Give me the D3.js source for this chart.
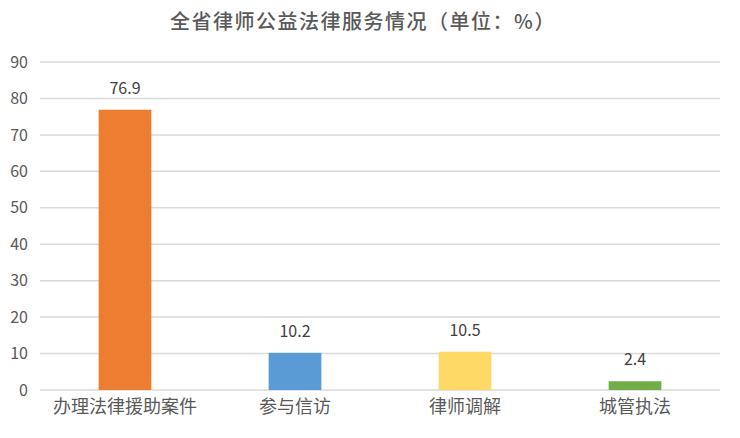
<!DOCTYPE html>
<html>
<head>
<meta charset="utf-8">
<script src="https://cdn.jsdelivr.net/npm/d3@7"></script>
<style>
  body { margin: 0; background: #fff; }
  text { font-family: "Noto Sans CJK SC", "Noto Sans", sans-serif; }
</style>
</head>
<body>
<div class="chart"></div>
<script>
// chart data
const categories = ['办理法律援助案件', '参与信访', '律师调解', '城管执法'];
const values = [76.9, 10.2, 10.5, 2.4];
const barColors = ['#ED7D31', '#5B9BD5', '#FFD966', '#70AD47'];
const yTicks = [0, 10, 20, 30, 40, 50, 60, 70, 80, 90];
const title = '全省律师公益法律服务情况（单位：%）';

const width = 740, height = 438;
const margin = { top: 62, right: 20, bottom: 48, left: 40 };

const svg = d3.select('.chart')
  .append('svg')
  .attr('width', width)
  .attr('height', height);

const x = d3.scaleBand()
  .domain(categories)
  .range([margin.left, width - margin.right])
  .paddingInner(0.69)
  .paddingOuter(0.345);

const y = d3.scaleLinear()
  .domain([0, 90])
  .range([height - margin.bottom, margin.top]);

// title
svg.append('text')
  .attr('x', 363).attr('y', 29)
  .attr('text-anchor', 'middle')
  .style('font-size', '20px')
  .style('font-weight', '500')
  .style('letter-spacing', '1.5px')
  .attr('fill', '#595959')
  .text(title);

// grid lines
svg.append('g')
  .selectAll('line')
  .data(yTicks)
  .join('line')
  .attr('x1', margin.left).attr('x2', width - margin.right)
  .attr('y1', d => y(d)).attr('y2', d => y(d))
  .attr('stroke', '#d9d9d9')
  .attr('stroke-width', 1.5);

// y axis labels
const yAxis = svg.append('g')
  .attr('transform', `translate(${margin.left - 12},0)`)
  .call(d3.axisLeft(y).tickValues(yTicks).tickSize(0).tickPadding(0));
yAxis.select('.domain').remove();
yAxis.selectAll('text')
  .style('font-size', '16px')
  .attr('fill', '#595959');

// bars
svg.append('g')
  .selectAll('rect')
  .data(values)
  .join('rect')
  .attr('x', (d, i) => x(categories[i]))
  .attr('y', d => y(d))
  .attr('width', x.bandwidth())
  .attr('height', d => y(0) - y(d))
  .attr('fill', (d, i) => barColors[i]);

// value labels
svg.append('g')
  .selectAll('text')
  .data(values)
  .join('text')
  .attr('x', (d, i) => x(categories[i]) + x.bandwidth() / 2)
  .attr('y', d => y(d) - 16)
  .attr('text-anchor', 'middle')
  .style('font-size', '16px')
  .attr('fill', '#404040')
  .text(d => d);

// x axis labels
const xAxis = svg.append('g')
  .attr('transform', `translate(0,${y(0)})`)
  .call(d3.axisBottom(x).tickSize(0).tickPadding(10));
xAxis.select('.domain').remove();
xAxis.selectAll('text')
  .style('font-size', '18px')
  .attr('fill', '#595959');
</script>
</body>
</html>
